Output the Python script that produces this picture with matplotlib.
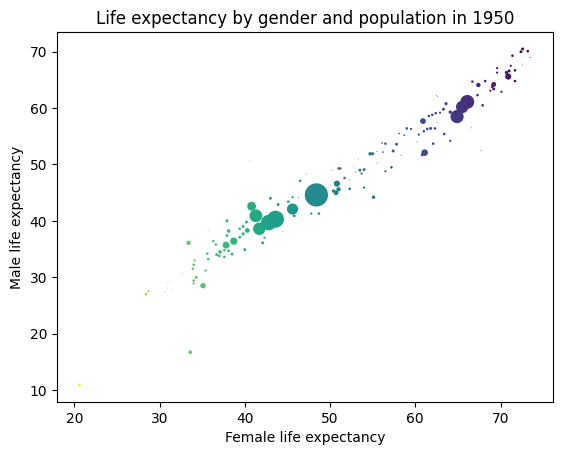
import numpy as np
import matplotlib
matplotlib.use("Agg")
import matplotlib.pyplot as plt

# life expectancy in 1950 (female, male, population in millions)
female = [
    20.6, 33.6, 28.4, 28.7, 30.7, 30.9, 31.5, 31.0, 35.1, 33.4,
    34.0, 34.0, 34.3, 32.7, 35.4, 33.9, 34.0, 34.1, 35.7, 35.6,
    36.7, 37.0, 37.1, 37.8, 38.7, 38.1, 38.5, 37.6, 37.6, 36.3,
    36.6, 38.1, 37.9, 37.9, 40.0, 39.4, 39.4, 39.8, 39.8, 40.2,
    40.3, 40.8, 41.3, 41.7, 42.8, 43.6, 42.1, 42.3, 35.7, 40.6,
    43.0, 43.9, 45.1, 45.6, 45.8, 46.5, 46.3, 45.6, 47.2, 44.5,
    48.4, 47.8, 48.7, 50.8, 50.7, 51.0, 50.4, 51.0, 51.2, 50.2,
    51.7, 52.3, 52.3, 53.0, 53.5, 53.7, 54.0, 54.0, 55.1, 54.7,
    55.0, 55.5, 56.1, 56.5, 56.2, 57.4, 57.2, 56.5, 57.8, 58.1,
    58.7, 59.0, 59.5, 53.3, 52.8, 55.5, 58.3, 60.2, 62.6, 60.9,
    61.1, 60.8, 60.4, 61.0, 61.4, 61.8, 62.3, 62.1, 63.4, 64.1,
    61.6, 62.0, 62.4, 62.9, 63.3, 63.6, 64.1, 64.9, 65.5, 66.1,
    66.6, 67.7, 62.5, 67.9, 66.7, 67.3, 67.4, 68.2, 69.0, 69.2,
    69.2, 68.8, 70.1, 69.6, 69.6, 70.9, 70.7, 71.0, 71.2, 71.7,
    71.7, 71.4, 72.4, 72.6, 73.2, 72.6, 73.5, 62.6,
]
male = [
    10.9, 16.7, 27.0, 27.5, 27.4, 28.1, 27.9, 29.1, 28.5, 36.1,
    29.4, 28.9, 30.0, 30.7, 31.2, 31.5, 32.2, 33.0, 33.2, 34.2,
    34.0, 33.8, 34.5, 35.7, 36.4, 34.7, 34.1, 33.6, 34.8, 36.4,
    35.8, 38.2, 37.4, 40.0, 34.9, 37.1, 38.6, 37.7, 39.0, 39.8,
    38.3, 42.6, 40.9, 38.6, 39.7, 40.3, 36.1, 37.0, 38.3, 50.6,
    44.0, 42.9, 43.4, 42.1, 40.9, 47.1, 44.1, 44.2, 48.3, 38.2,
    44.6, 41.3, 41.3, 46.6, 45.0, 45.6, 45.3, 49.3, 49.3, 49.0,
    47.6, 47.2, 45.7, 48.7, 49.0, 48.4, 49.1, 45.9, 44.2, 51.9,
    51.9, 52.3, 53.8, 53.7, 52.2, 52.4, 49.5, 48.8, 53.6, 55.5,
    55.2, 56.4, 56.3, 51.0, 49.6, 50.2, 51.6, 54.0, 57.4, 57.7,
    52.1, 51.7, 55.3, 55.9, 56.3, 56.4, 56.4, 53.7, 55.4, 54.2,
    58.6, 58.8, 59.1, 59.2, 59.8, 60.8, 59.3, 58.5, 60.2, 61.1,
    56.5, 52.5, 62.2, 60.5, 64.7, 62.3, 64.1, 64.8, 63.8, 64.2,
    63.4, 63.1, 62.9, 67.1, 66.3, 65.6, 66.3, 66.6, 67.5, 66.7,
    64.8, 69.3, 70.0, 70.5, 70.1, 67.8, 69.0, 62.1,
]
population = [
    8, 14, 7, 5, 1, 1, 1, 0.8, 30, 20,
    7, 5, 9, 1, 5, 7, 7, 5, 7, 7,
    10, 8, 14, 50, 55, 8, 9, 7, 7, 7,
    7, 14, 8, 10, 9, 8, 7, 10, 9, 9,
    22, 80, 170, 160, 250, 300, 9, 5, 0.8, 0.8,
    9, 9, 7, 130, 8, 7, 1, 5, 1, 0.8,
    560, 5, 7, 40, 25, 20, 12, 7, 7, 1,
    7, 1, 7, 1.5, 9, 5, 9, 5, 12, 12,
    10, 1, 3, 7, 3, 9, 7, 5, 9, 3,
    3, 7, 5, 0.8, 0.8, 0.8, 0.8, 1, 0.8, 35,
    45, 8, 5, 7, 7, 9, 7, 7, 7, 5,
    7, 7, 7, 5, 9, 10, 12, 180, 160, 200,
    0.8, 0.8, 0.8, 7, 7, 7, 20, 7, 7, 25,
    10, 5, 5, 5, 5, 40, 12, 10, 5, 7,
    7, 7, 9, 9, 7, 0.8, 1, 0.8,
]

female = np.array(female)
male = np.array(male)
population = np.array(population)

fig, ax = plt.subplots(figsize=(6.4, 4.8), dpi=100)
ax.scatter(female, male, s=population / 2, c=female, cmap="viridis_r", linewidths=0)
ax.set_title("Life expectancy by gender and population in 1950")
ax.set_xlabel("Female life expectancy")
ax.set_ylabel("Male life expectancy")

fig.savefig("out.png", dpi=100, bbox_inches="tight")
